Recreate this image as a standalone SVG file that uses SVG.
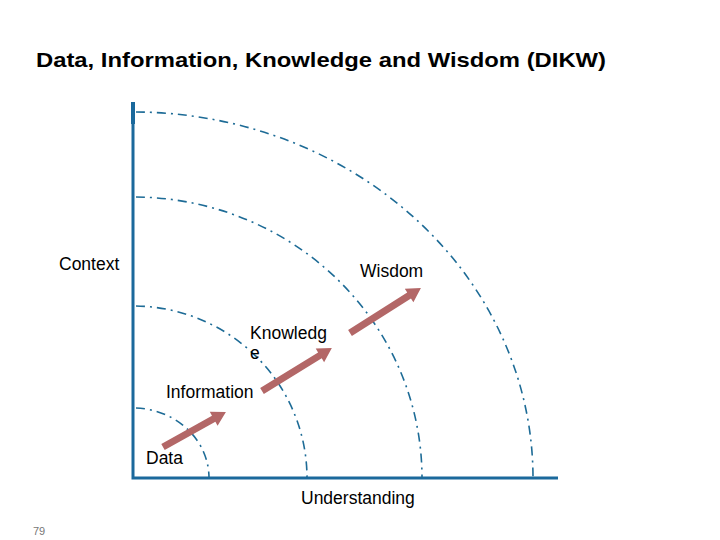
<svg xmlns="http://www.w3.org/2000/svg" width="720" height="540" viewBox="0 0 720 540">
<style>
.lbl{font-family:"Liberation Sans",Arial,sans-serif;font-size:17.5px;fill:#000}
.title{font-family:"Liberation Sans",Arial,sans-serif;font-size:21px;font-weight:bold;fill:#000}
.arc{fill:none;stroke:#1d6b96;stroke-width:1.6;stroke-dasharray:9 5 2 5}
.axis{stroke:#1b699c;stroke-width:3;fill:none}
.arr{fill:#b36767}
</style>
<rect width="720" height="540" fill="#fff"/>
<text class="title" x="36" y="67" textLength="570" lengthAdjust="spacingAndGlyphs">Data, Information, Knowledge and Wisdom (DIKW)</text>
<g id="axes">
<rect x="131" y="102" width="4" height="22" fill="#1b699c"/>
<path class="axis" d="M133,102 V478 H558"/>
</g>
<g id="arcs">
<path id="arc-data" class="arc" d="M136,408 A76,70 0 0 1 209,478"/>
<path id="arc-information" class="arc" d="M136,306 A174,172 0 0 1 307,478"/>
<path id="arc-knowledge" class="arc" d="M136,197 A289,281 0 0 1 422,478"/>
<path id="arc-wisdom" class="arc" d="M136,112 A400,366 0 0 1 533,478"/>
</g>
<g id="connectors">
<path class="arr" transform="translate(163,447) rotate(-29.1)" d="M0,-3.5 H58 V-8 L72,0 L58,8 V3.5 H0 Z"/>
<path class="arr" transform="translate(262,391) rotate(-31.6)" d="M0,-3.5 H68 V-8 L82,0 L68,8 V3.5 H0 Z"/>
<path class="arr" transform="translate(350,333) rotate(-32.4)" d="M0,-3.5 H70 V-8 L84,0 L70,8 V3.5 H0 Z"/>
</g>
<g id="context"><text class="lbl" x="59" y="270">Context</text></g>
<g id="wisdom"><text class="lbl" x="360" y="277">Wisdom</text></g>
<g id="knowledge"><text class="lbl" x="250" y="339">Knowledg</text><text class="lbl" x="250" y="359">e</text></g>
<g id="information"><text class="lbl" x="166" y="398">Information</text></g>
<g id="data"><text class="lbl" x="146" y="464">Data</text></g>
<g id="understanding"><text class="lbl" x="301" y="504">Understanding</text></g>
<text x="33" y="535" font-family="Liberation Sans, Arial, sans-serif" font-size="11" fill="#777">79</text>
</svg>
